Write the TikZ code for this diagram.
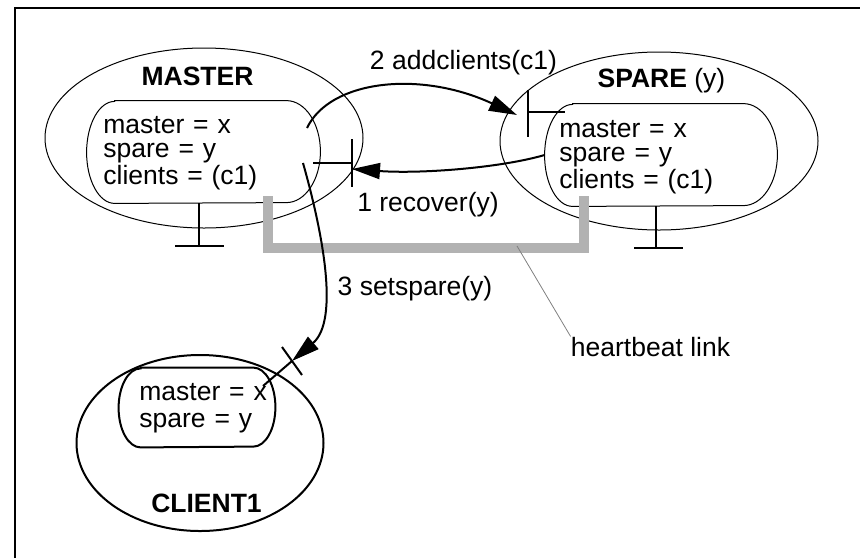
\documentclass[tikz,border=0pt]{standalone}
\usepackage{fontspec}
\setmainfont{Liberation Sans}
\usetikzlibrary{arrows.meta,shapes.geometric}

\begin{document}
\begin{tikzpicture}[x=0.5pt, y=-0.5pt, every node/.style={font=\fontsize{13.25}{12.25}\selectfont, inner sep=0pt}]
\tikzset{proc/.style={draw, ellipse, line width=0.5pt}}
\tikzset{state/.style={rectangle}}
\tikzset{vars/.style={anchor=base west, align=left, text width=90pt}}
\tikzset{title/.style={anchor=base, font=\fontsize{13.25}{12.25}\selectfont\bfseries}}
\tikzset{port/.style={line width=1pt}}
\tikzset{arrow/.style={-{Triangle[length=14pt, width=8pt]}, line width=1pt}}
\tikzset{hb/.style={line width=5pt, draw=black!30, line join=miter}}
\useasboundingbox (0,0) rectangle (860,558);
\draw[line width=1.2pt] (15,558) -- (15,8) -- (860,8);
% master
\node[proc, minimum width=159pt, minimum height=90pt] (master) at (204,138) {};
\node[title] (mname) at (197.5,85) {MASTER};
\node[state, minimum width=116.5pt, minimum height=51pt] (minner) at (203.5,152) {};
\draw[line width=0.5pt] ([xshift=14pt]minner.north west) -- ([xshift=-17pt]minner.north east)
  arc[start angle=90, end angle=-90, x radius=17pt, y radius=25.5pt] -- ([xshift=14pt]minner.south west)
  arc[start angle=270, end angle=90, x radius=14pt, y radius=25.5pt] -- cycle;
\node[vars] (mvars) at (103,133) {master = x\\spare = y\\clients = (c1)};
% spare
\node[proc, minimum width=159pt, minimum height=89pt] (spare) at (659,141) {};
\node[title] (sname) at (661.5,87) {SPARE \textmd{(y)}};
\node[state, minimum width=116pt, minimum height=51pt] (sinner) at (661,155) {};
\draw[line width=0.5pt] ([xshift=14pt]sinner.north west) -- ([xshift=-17pt]sinner.north east)
  arc[start angle=90, end angle=-90, x radius=17pt, y radius=25.5pt] -- ([xshift=14pt]sinner.south west)
  arc[start angle=270, end angle=90, x radius=14pt, y radius=25.5pt] -- cycle;
\node[vars] (svars) at (559,137) {master = x\\spare = y\\clients = (c1)};
% client
\node[proc, line width=1pt, minimum width=123.5pt, minimum height=88pt] (client) at (200,443) {};
\node[title] (cname) at (206.5,512) {CLIENT1};
\node[state, minimum width=78pt, minimum height=39.5pt] (cinner) at (197,407.5) {};
\draw[line width=1pt] ([xshift=11pt]cinner.north west) -- ([xshift=-11pt]cinner.north east)
  arc[start angle=90, end angle=-90, x radius=11pt, y radius=19.75pt] -- ([xshift=11pt]cinner.south west)
  arc[start angle=270, end angle=90, x radius=11pt, y radius=19.75pt] -- cycle;
\node[vars, font=\fontsize{13.25}{13.5}\selectfont] (cvars) at (139,400) {master = x\\spare = y};
% ports
\coordinate (mE) at (352,163);
\coordinate (mS) at (199,246);
\coordinate (sW) at (528,112);
\coordinate (sS) at (656,248);
\coordinate (cP) at (292,361);
\draw[port] (mE) -- ++(-39,0);
\draw[port] (mE) ++(0,-24) -- ++(0,48);
\draw[port] (mS |- minner.south) -- (mS);
\draw[port] (mS) ++(-24,0) -- ++(49,0);
\draw[port] (sW) -- ++(37,0);
\draw[port] (sW) ++(0,-22) -- ++(0,47);
\draw[port] (sS |- sinner.south) -- (sS);
\draw[port] (sS) ++(-22,0) -- ++(49,0);
\draw[port] (cP) -- ++(-29,25);
\draw[port] (cP) ++(-10,-14) -- ++(20,28);
% heartbeat
\coordinate (hbL) at (268,196);
\coordinate (hbR) at (584,196);
\coordinate (hbmid) at (517,246);
\draw[hb] (hbL) -- ++(0,52) -| (hbR);
\node[anchor=base] (hblabel) at (650.5,356) {heartbeat link};
\draw[black!50, line width=0.4pt] (hbmid) -- (hblabel.north west);
% messages
\coordinate (m2) at (307,128);
\coordinate (m3) at (303,163);
\draw[arrow] (m2) .. controls (330,80) and (420,70) .. ([xshift=-5.5pt,yshift=-1.5pt]sW);
\node[anchor=base] (addlabel) at (463.5,69) {2 addclients(c1)};
\draw[arrow] (sinner.west) .. controls (500,168) and (420,174) .. ([yshift=-3pt]mE);
\node[anchor=base] (reclabel) at (428,211) {1 recover(y)};
\draw[arrow] (m3) .. controls (322,230) and (340,320) .. (cP);
\node[anchor=base] (setlabel) at (415,295) {3 setspare(y)};
\end{tikzpicture}
\end{document}
